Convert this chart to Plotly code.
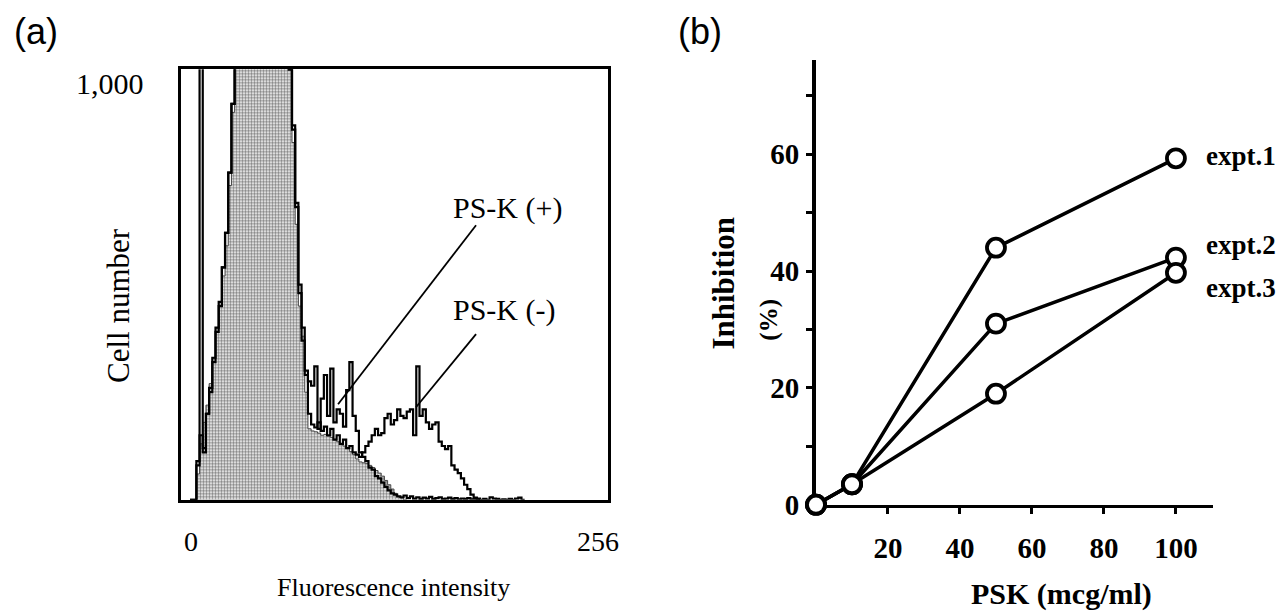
"""Flow cytometry histogram (a) and PSK inhibition curves (b)."""

import plotly.graph_objects as go

WIDTH = 1285
HEIGHT = 613

# (a) histogram, counts per 2-channel bin starting at channel 0
CHANNELS = list(range(0, 222, 2))
CONTROL_COUNTS = [
    0, 0, 60, 130, 180, 220, 270, 330, 400, 460, 520, 590, 730, 900,
    1200, 1200, 1200, 1200, 1200, 1200, 1200, 1200, 1200, 1200, 1200, 1200,
    1200, 1200, 1200, 1200, 1200,
    1000, 830, 640, 450, 380, 250, 165, 160, 158, 155, 150, 152, 148, 145,
    140, 135, 130, 125, 120, 112, 105, 95, 88, 86, 84, 80, 75, 68, 62, 55,
    45, 35, 25, 15, 8, 4, 0, 0,
]
PSK_PLUS_COUNTS = [
    0, 0, 90, 1200, 110, 200, 250, 320, 390, 450, 540, 620, 760, 920,
    1200, 1200, 1200, 1200, 1200, 1200, 1200, 1200, 1200, 1200, 1200, 1200,
    1200, 1200, 1200, 1200, 1200,
    1000, 860, 680, 480, 370, 290, 275, 265, 310, 165, 235, 290, 195, 305,
    180, 210, 200, 170, 255, 320, 195, 160, 110, 100, 90, 75, 70, 55, 50,
    40, 30, 22, 15, 12, 8, 6, 10, 4, 8, 3, 6, 2, 5, 3, 7, 2, 4, 6, 2, 3, 5,
    2, 4, 1, 3, 2, 4, 1, 2, 0, 0,
]
PSK_MINUS_COUNTS = [
    0, 0, 80, 150, 120, 200, 260, 330, 400, 460, 540, 620, 760, 920,
    1200, 1200, 1200, 1200, 1200, 1200, 1200, 1200, 1200, 1200, 1200, 1200,
    1200, 1200, 1200, 1200, 1200,
    1000, 870, 690, 500, 400, 300, 200, 175, 168, 180, 160, 170, 150, 165,
    140, 150, 130, 140, 120, 125, 110, 105, 100, 110, 125, 135, 150, 165,
    150, 155, 190, 200, 175, 185, 210, 195, 190, 205, 210, 150, 310, 195,
    210, 180, 165, 175, 180, 135, 125, 118, 125, 80, 70, 62, 50, 35, 25, 12,
    5, 3, 0, 2, 0, 6, 3, 2, 0, 1, 0, 2, 0, 3, 5, 0, 0,
]

# (b) inhibition vs PSK dose
PSK_DOSE = [0, 10, 50, 100]
EXPT_1 = [0, 3.5, 44, 59.3]
EXPT_2 = [0, 3.5, 31, 42.3]
EXPT_3 = [0, 3.5, 19, 39.7]
EXPT_NAMES = ["expt.1", "expt.2", "expt.3"]

SERIF = "Liberation Serif"
SANS = "Liberation Sans"


def px(x):
    return x / WIDTH


def py(y):
    return 1 - y / HEIGHT


def text(x, y, s, size, bold=False, font=SERIF, angle=0, xanchor="center"):
    if bold:
        s = "<b>" + s + "</b>"
    return dict(x=px(x), y=py(y), xref="paper", yref="paper", text=s,
                showarrow=False, textangle=angle, xanchor=xanchor,
                yanchor="middle", font=dict(family=font, size=size,
                                            color="black"))


def add_histogram(fig):
    n = len(CONTROL_COUNTS)
    fig.add_trace(go.Scatter(
        x=CHANNELS[:n], y=CONTROL_COUNTS, mode="lines",
        line=dict(shape="hv", color="#444", width=1),
        fill="tozeroy", fillcolor="white",
        fillpattern=dict(shape=".", fgcolor="black", bgcolor="white",
                         size=3, solidity=0.55),
        xaxis="x", yaxis="y", showlegend=False))
    for counts in (PSK_MINUS_COUNTS, PSK_PLUS_COUNTS):
        fig.add_trace(go.Scatter(
            x=CHANNELS[:len(counts)], y=counts, mode="lines",
            line=dict(shape="hv", color="black", width=2.2),
            xaxis="x", yaxis="y", showlegend=False))
    # leader lines to the labels
    for x0, y0, x1, y1 in [(179.5, 638, 92.9, 222), (179.5, 385, 141.8, 215)]:
        fig.add_shape(type="line", x0=x0, y0=y0, x1=x1, y1=y1,
                      xref="x", yref="y", line=dict(color="black", width=1.8))


def add_inhibition(fig):
    for values in (EXPT_1, EXPT_2, EXPT_3):
        fig.add_trace(go.Scatter(
            x=PSK_DOSE, y=values, mode="lines+markers",
            line=dict(color="black", width=3.5),
            marker=dict(symbol="circle", size=18, color="white",
                        line=dict(color="black", width=3.8)),
            cliponaxis=False, xaxis="x2", yaxis="y2", showlegend=False))


def build_figure():
    fig = go.Figure()
    add_histogram(fig)
    add_inhibition(fig)

    left_x = [px(173), px(600)]
    left_y = [py(505), py(63)]
    right_x = [px(808), px(1205)]
    right_y = [py(510), py(53)]
    frame = dict(showline=True, linecolor="black", linewidth=2.6,
                 mirror=True, showgrid=False, zeroline=False)
    tick_font = dict(family=SERIF, size=29, color="black", weight="bold")
    fig.update_layout(
        width=WIDTH, height=HEIGHT,
        margin=dict(l=0, r=0, t=0, b=0),
        paper_bgcolor="white", plot_bgcolor="white",
        xaxis=dict(domain=left_x, range=[-5.65, 262.3], showticklabels=False,
                   ticks="", **frame),
        yaxis=dict(domain=left_y, range=[0, 1000], showticklabels=False,
                   ticks="", **frame),
        xaxis2=dict(domain=right_x, range=[0, 110.3], anchor="y2",
                    showline=True, linecolor="black", linewidth=3,
                    showgrid=False, zeroline=False, layer="below traces",
                    tickvals=[20, 40, 60, 80, 100], ticks="outside",
                    ticklen=6, tickwidth=3, tickcolor="black",
                    ticklabelstandoff=10, tickfont=tick_font),
        yaxis2=dict(domain=right_y, range=[0, 76.2], anchor="x2",
                    showline=True, linecolor="black", linewidth=4,
                    showgrid=False, zeroline=False, layer="below traces",
                    tickvals=[0, 10, 20, 30, 40, 50, 60, 70],
                    ticktext=["0", "", "20", "", "40", "", "60", ""],
                    ticks="outside", ticklen=6, tickwidth=3,
                    tickcolor="black", ticklabelstandoff=1,
                    tickfont=tick_font),
    )

    annotations = [
        text(28, 24, "(a)", 36, font=SANS),
        text(692, 24, "(b)", 36, font=SANS),
        text(102, 78, "1,000", 30),
        text(183, 548, "0", 28),
        text(590, 548, "256", 28),
        text(110, 306, "Cell number", 31, angle=-90),
        text(385, 595, "Fluorescence intensity", 26),
        text(443, 205, "PS-K (+)", 30, xanchor="left"),
        text(443, 310, "PS-K (-)", 30, xanchor="left"),
        text(716, 283, "Inhibition", 31, bold=True, angle=-90),
        text(761, 320, "(%)", 25, bold=True, angle=-90),
        text(1053, 602, "PSK (mcg/ml)", 30, bold=True),
        text(1196, 152, EXPT_NAMES[0], 27, bold=True, xanchor="left"),
        text(1196, 243, EXPT_NAMES[1], 27, bold=True, xanchor="left"),
        text(1196, 288, EXPT_NAMES[2], 27, bold=True, xanchor="left"),
    ]
    fig.update_layout(annotations=annotations)
    return fig


def main():
    fig = build_figure()
    fig.write_html("out.html")


if __name__ == "__main__":
    main()
